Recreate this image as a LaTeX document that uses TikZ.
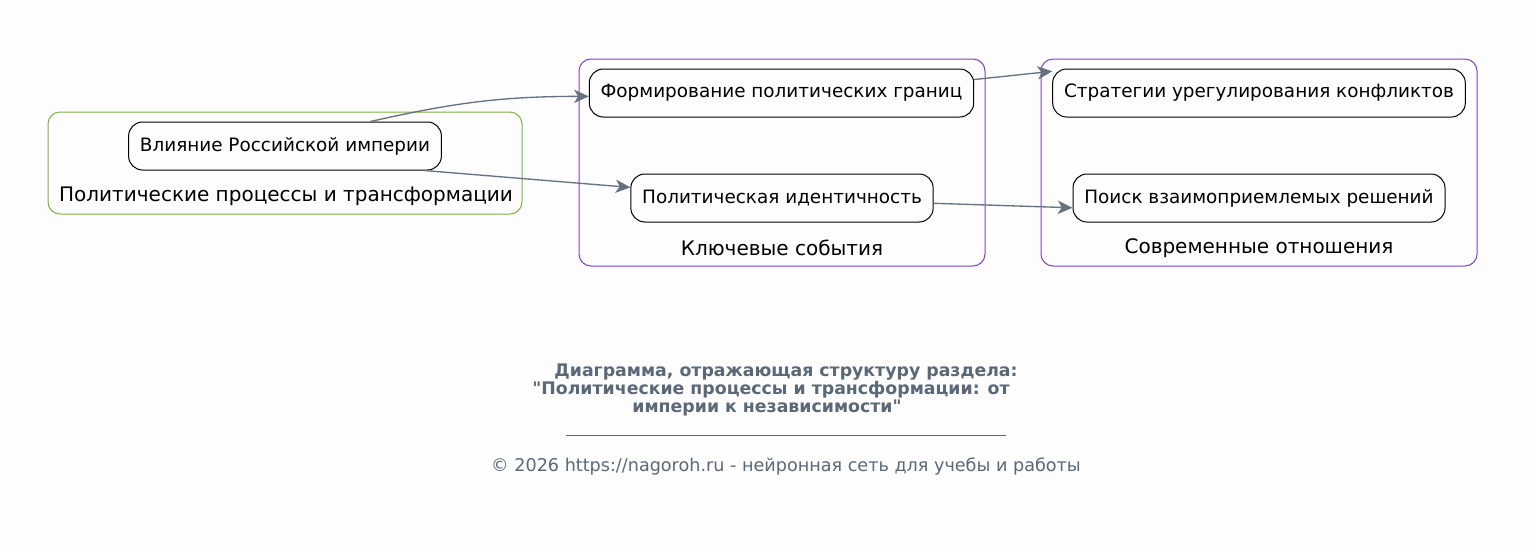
\documentclass[tikz,border=0pt]{standalone}
\usepackage{fontspec}
\setmainfont{DejaVu Sans}[Ligatures=TeXOff]
\usetikzlibrary{arrows.meta}
\definecolor{bg}{RGB}{253, 253, 253}
\definecolor{g1}{RGB}{124, 179, 66}
\definecolor{p1}{RGB}{126, 63, 201}
\definecolor{e1}{RGB}{102, 114, 128}
\definecolor{t1}{RGB}{90, 104, 120}

\begin{document}
\begin{tikzpicture}[x=0.75pt, y=-0.75pt]
    \tikzstyle{topic}=[draw, rounded corners=10.5pt, minimum height=36pt,
    inner xsep=8.5pt, line width=0.75pt, font=\fontsize{13.8}{17}\selectfont]
    \tikzstyle{group}=[line width=0.75pt, rounded corners=9pt]
    \tikzstyle{grouplabel}=[font=\fontsize{15}{18}\selectfont]
    \tikzstyle{link}=[line width=1pt, color=e1,
    arrows={-Stealth[length=11pt, width=10pt, inset=3pt]}]
    \tikzstyle{caption}=[color=t1, font=\bfseries\fontsize{13}{15}\selectfont]

    % Background and bounding box
    \fill [bg] (0, 0) rectangle (1536, 551);
    \useasboundingbox (0, 0) rectangle (1536, 551);

    % Left group
    \draw [group, color=g1] (48, 112) rectangle (522, 214);
    \node [grouplabel] (gl1) at (286, 196) {Политические процессы и трансформации};
    \node [topic] (vl) at (285, 146) {Влияние Российской империи};

    % Middle group
    \draw [group, color=p1] (579, 59) rectangle (985, 266);
    \node [grouplabel] (gl2) at (782, 248) {Ключевые события};
    \node [topic] (fp) at (781.5, 93) {Формирование политических границ};
    \node [topic] (pi) at (782, 198) {Политическая идентичность};

    % Right group
    \draw [group, color=p1] (1041, 59) rectangle (1477, 266);
    \node [grouplabel] (gl3) at (1259, 248) {Современные отношения};
    \node [topic] (st) at (1259, 93) {Стратегии урегулирования конфликтов};
    \node [topic] (ps) at (1259, 198) {Поиск взаимоприемлемых решений};

    % Draw the links
    \draw [link] (vl.16) .. controls +(80, -18) and +(-90, 0) .. (fp.181.5);
    \draw [link] (vl.-10) -- (pi.176);
    \draw [link] (fp.4.5) -- (st.174.5);
    \draw [link] (pi.-2.7) -- (ps.183.4);

    % Caption
    \node [caption] (cap1) at (786, 372) {Диаграмма, отражающая структуру раздела:};
    \node [caption] (cap2) at (771, 390) {"Политические процессы и трансформации: от};
    \node [caption] (cap3) at (767, 408) {империи к независимости"};
    \draw [color=t1, line width=0.6pt] (566, 435) -- (1006, 435);
    \node [color=t1, font=\fontsize{13.2}{15}\selectfont] (foot) at (786, 466)
    {© 2026 https://nagoroh.ru - нейронная сеть для учебы и работы};
\end{tikzpicture}
\end{document}
